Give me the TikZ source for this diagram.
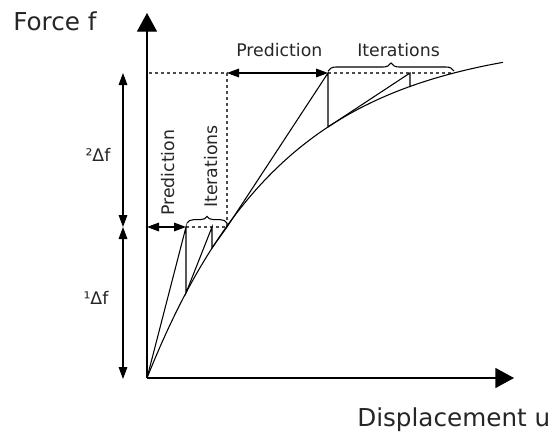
\documentclass[tikz,border=0pt]{standalone}
\usepackage{fontspec}
\setmainfont{DejaVu Sans}
\usetikzlibrary{arrows.meta,decorations.pathreplacing}

\begin{document}
\begin{tikzpicture}[
  x=0.75pt, y=-0.75pt,
  axis/.style={line width=1pt, -{Triangle[length=14pt,width=15pt]}},
  dim/.style={line width=0.8pt, {Triangle[length=9pt,width=6.5pt]}-{Triangle[length=9pt,width=6.5pt]}},
  guide/.style={black!70, line width=0.9pt, dash pattern=on 2.5pt off 2pt},
  iter/.style={line width=0.8pt},
  brc/.style={decorate, decoration={brace, amplitude=#1}, line width=0.8pt},
  big/.style={font=\fontsize{18.5}{22}\selectfont, inner sep=0pt, anchor=base west, text=black!85},
  lbl/.style={font=\fontsize{13}{15}\selectfont, inner sep=0pt, text=black!85}
]
\useasboundingbox (0,0) rectangle (559,432);

% points of the two load steps
\coordinate (o) at (147,378);
\coordinate (ftop) at (147,13);
\coordinate (uend) at (514,378);
\coordinate (p1) at (186,227);
\coordinate (c1) at (186,293);
\coordinate (i1) at (212,227);
\coordinate (c2) at (212,248);
\coordinate (s1) at (227,227);
\coordinate (p2) at (328,73);
\coordinate (c3) at (328,127);
\coordinate (i2) at (410,73);
\coordinate (c4) at (410,87);
\coordinate (s2) at (454,73);
\coordinate (a1) at (147,227);
\coordinate (a2) at (227,73);
\coordinate (g0) at (149,73);

% guide lines
\draw[guide] (g0) -- (a2) -- (s1);
\draw[guide] (p1) -- (s1);
\draw[guide] (p2) -- (s2);

% axes
\draw[axis] (o) -- (ftop);
\draw[axis] (o) -- (uend);
\node[big] (flab) at (13,30) {Force f};
\node[big] (ulab) at (357,426) {Displacement u};

% load-displacement curve
\draw[line width=0.8pt] plot[domain=0:356, samples=80] ({147+\x},{378-340*(1-exp(-\x/135))});

% iterations
\draw[iter] (o) -- (p1) -- (c1) -- (i1) -- (c2) -- (s1);
\draw[iter] (s1) -- (p2) -- (c3) -- (i2) -- (c4);

% load increments
\coordinate (d0) at (123,379);
\coordinate (d1) at (123,227);
\coordinate (d2) at (123,73);
\draw[dim] (d1) -- (d0);
\draw[dim] (d2) -- (d1);
\node[lbl] (df1) at (96,298) {¹Δf};
\node[lbl] (df2) at (98,155) {²Δf};

% predictions
\draw[dim] (a1) -- (p1);
\draw[dim] (a2) -- (p2);
\node[lbl, anchor=base west] (pr2) at (236,56) {Prediction};
\node[lbl, anchor=base west, rotate=90] (pr1) at (174,216) {Prediction};

% iteration braces
\draw[brc=6pt] (328,71) -- (454,71);
\draw[brc=5pt] (187,223) -- (227,223);
\node[lbl, anchor=base west] (it2) at (357,56) {Iterations};
\node[lbl, anchor=base west, rotate=90] (it1) at (217,208) {Iterations};
\end{tikzpicture}
\end{document}
